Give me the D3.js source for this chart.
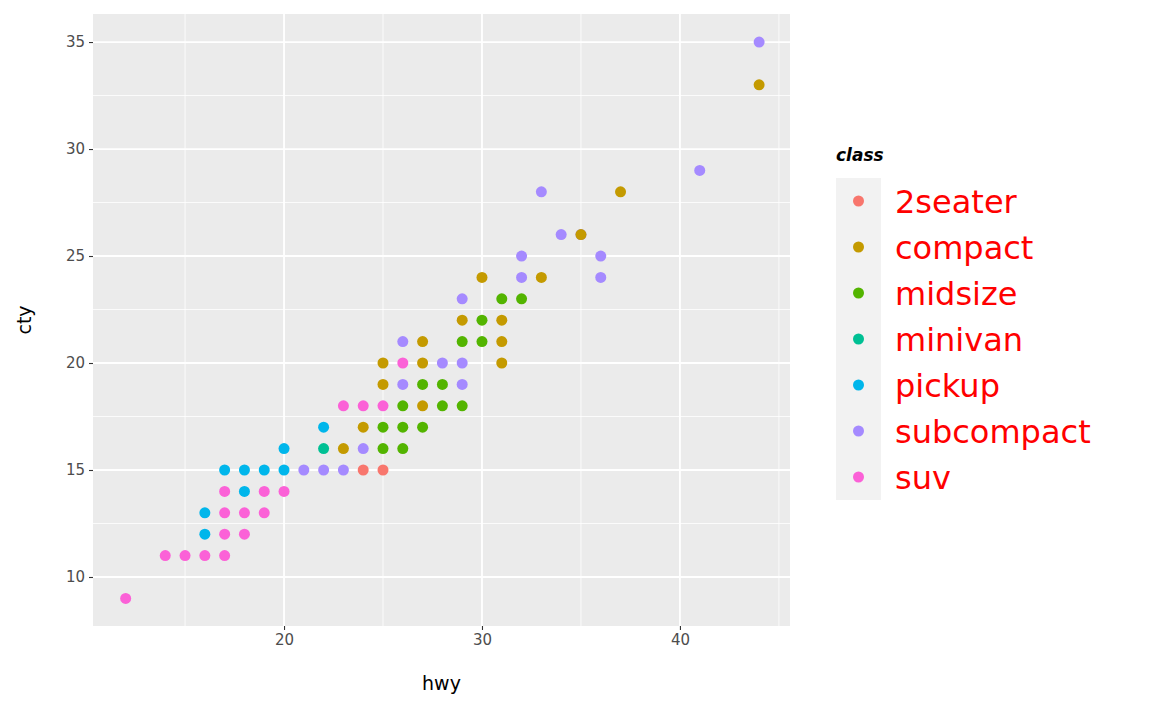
<!DOCTYPE html>
<html><head><meta charset="utf-8">
<script src="https://cdn.jsdelivr.net/npm/d3@7"></script>
<style>body{margin:0;background:#fff;font-family:"DejaVu Sans",sans-serif;}</style>
</head><body><svg id="chart" width="1152" height="711"></svg>
<script>
var classes = ['2seater','compact','midsize','minivan','pickup','subcompact','suv'];
var colors = ['#F8766D','#C49A00','#53B400','#00C094','#00B6EB','#A58AFF','#FB61D7'];

// [hwy, cty, class]
var points = [
  [44,35,'subcompact'],[44,33,'compact'],[41,29,'subcompact'],
  [33,28,'subcompact'],[37,28,'compact'],
  [34,26,'subcompact'],[35,26,'subcompact'],[35,26,'compact'],
  [32,25,'subcompact'],[36,25,'subcompact'],
  [30,24,'compact'],[32,24,'subcompact'],[33,24,'compact'],[36,24,'subcompact'],
  [29,23,'subcompact'],[31,23,'midsize'],[32,23,'midsize'],
  [29,22,'compact'],[30,22,'midsize'],[31,22,'compact'],
  [26,21,'subcompact'],[27,21,'compact'],[29,21,'midsize'],[30,21,'midsize'],[31,21,'compact'],
  [25,20,'compact'],[26,20,'suv'],[27,20,'compact'],[28,20,'subcompact'],[29,20,'subcompact'],[31,20,'compact'],
  [25,19,'compact'],[26,19,'subcompact'],[27,19,'midsize'],[28,19,'midsize'],[29,19,'subcompact'],
  [23,18,'suv'],[24,18,'suv'],[25,18,'suv'],[26,18,'midsize'],[27,18,'compact'],[28,18,'midsize'],[29,18,'midsize'],
  [22,17,'pickup'],[24,17,'compact'],[25,17,'midsize'],[26,17,'midsize'],[27,17,'midsize'],
  [20,16,'pickup'],[22,16,'minivan'],[23,16,'compact'],[24,16,'subcompact'],[25,16,'midsize'],[26,16,'midsize'],
  [17,15,'pickup'],[18,15,'pickup'],[19,15,'pickup'],[20,15,'pickup'],[21,15,'subcompact'],
  [22,15,'subcompact'],[23,15,'subcompact'],[24,15,'2seater'],[25,15,'2seater'],
  [17,14,'suv'],[18,14,'pickup'],[19,14,'suv'],[20,14,'suv'],
  [16,13,'pickup'],[17,13,'suv'],[18,13,'suv'],[19,13,'suv'],
  [16,12,'pickup'],[17,12,'suv'],[18,12,'suv'],
  [14,11,'suv'],[15,11,'suv'],[16,11,'suv'],[17,11,'suv'],
  [12,9,'suv']
];
var xTicks = [20,30,40], xMinor = [15,25,35,45];
var yTicks = [10,15,20,25,30,35], yMinor = [12.5,17.5,22.5,27.5,32.5];

var margin = {top:14, left:93, right:362, bottom:85};
var width = 1152 - margin.left - margin.right, height = 711 - margin.top - margin.bottom;
var svg = d3.select('#chart').append('g').attr('transform','translate('+margin.left+','+margin.top+')');

var x = d3.scaleLinear().domain([10.35,45.56]).range([0,width]);
var y = d3.scaleLinear().domain([7.71,36.31]).range([height,0]);
var color = d3.scaleOrdinal().domain(classes).range(colors);

svg.append('rect').attr('width',width).attr('height',height).attr('fill','#EBEBEB');
svg.selectAll('.xmin').data(xMinor).enter().append('line')
  .attr('x1',d=>x(d)).attr('x2',d=>x(d)).attr('y1',0).attr('y2',height).attr('stroke','#fff').attr('stroke-width',0.8);
svg.selectAll('.ymin').data(yMinor).enter().append('line')
  .attr('y1',d=>y(d)).attr('y2',d=>y(d)).attr('x1',0).attr('x2',width).attr('stroke','#fff').attr('stroke-width',0.8);
svg.selectAll('.xmaj').data(xTicks).enter().append('line')
  .attr('x1',d=>x(d)).attr('x2',d=>x(d)).attr('y1',0).attr('y2',height).attr('stroke','#fff').attr('stroke-width',1.8);
svg.selectAll('.ymaj').data(yTicks).enter().append('line')
  .attr('y1',d=>y(d)).attr('y2',d=>y(d)).attr('x1',0).attr('x2',width).attr('stroke','#fff').attr('stroke-width',1.8);

svg.selectAll('.pt').data(points).enter().append('circle')
  .attr('cx',d=>x(d[0])).attr('cy',d=>y(d[1])).attr('r',5.5).attr('fill',d=>color(d[2]));

var xa = svg.append('g').attr('transform','translate(0,'+height+')')
  .call(d3.axisBottom(x).tickValues(xTicks).tickSize(4).tickPadding(4));
var ya = svg.append('g').call(d3.axisLeft(y).tickValues(yTicks).tickSize(4).tickPadding(4));
[xa,ya].forEach(a=>{
  a.select('.domain').remove();
  a.selectAll('line').attr('stroke','#333').attr('stroke-width',1.1);
  a.selectAll('text').attr('fill','#4D4D4D').style('font-size','15px').style('font-family','DejaVu Sans');
});

svg.append('text').attr('x',width/2).attr('y',height+64).attr('text-anchor','middle')
  .style('font-size','19px').text('hwy');
svg.append('text').attr('transform','rotate(-90)').attr('x',-height/2).attr('y',-62)
  .attr('text-anchor','middle').style('font-size','19px').text('cty');

var leg = d3.select('#chart').append('g').attr('transform','translate(836,0)');
leg.append('text').attr('x',0).attr('y',161).style('font-size','17px')
  .style('font-weight','bold').style('font-style','italic').text('class');
var items = leg.selectAll('.item').data(classes).enter().append('g')
  .attr('transform',(d,i)=>'translate(0,'+(178+i*46)+')');
items.append('rect').attr('width',45).attr('height',46).attr('fill','#F2F2F2');
items.append('circle').attr('cx',22.5).attr('cy',23).attr('r',5.5).attr('fill',d=>color(d));
items.append('text').attr('x',59).attr('y',35).attr('fill','red').style('font-size','32px').text(d=>d);
</script></body></html>
